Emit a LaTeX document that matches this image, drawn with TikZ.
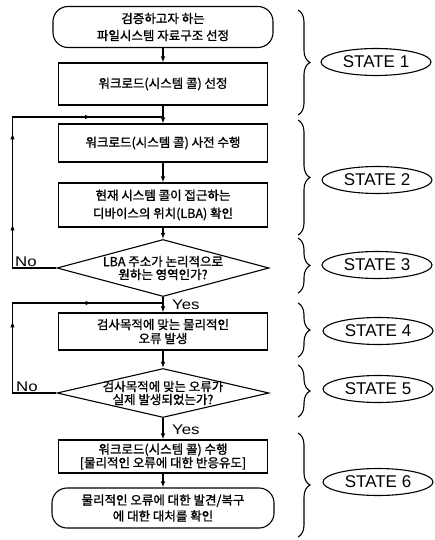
\documentclass[tikz,border=0pt]{standalone}
\usepackage{fontspec}
\newfontfamily\kr[FakeBold=1.2]{Noto Sans CJK KR}
\newfontfamily\lat{Liberation Sans}
\newfontfamily\latw[FakeStretch=1.2]{Liberation Sans}
\usetikzlibrary{shapes.geometric,arrows.meta,decorations.pathreplacing,decorations.markings}
\tikzset{
  ktext/.style={font=\kr\fontsize{12.5}{#1}\selectfont},
  box/.style={draw, line width=1.1pt, minimum width=209pt, inner sep=0pt, align=center},
  term/.style={box, rounded corners=15pt},
  dia/.style={draw, line width=1.1pt, diamond, inner sep=0pt, minimum width=212pt},
  txt/.style={align=center, inner sep=0pt},
  arr/.style={-{Latex[length=6pt,width=4.5pt]}, line width=1.1pt},
  brc/.style={decorate, decoration={brace, amplitude=12pt}, line width=1.1pt},
  st/.style={draw, ellipse, line width=1.1pt, minimum width=110pt, minimum height=27pt, inner sep=0pt, font=\lat\fontsize{17}{17}\selectfont},
  yn/.style={inner sep=0pt, font=\latw\fontsize{14}{14}\selectfont},
  loopa/.style={line width=1.1pt, postaction={decorate, decoration={markings,
     mark=at position 87.5pt with {\arrow{Latex[length=6pt,width=4.5pt]}},
     mark=at position 178.5pt with {\arrow{Latex[length=6pt,width=4.5pt]}},
     mark=at position 273.5pt with {\arrow{Latex[length=6pt,width=4.5pt]}}}}},
  loopb/.style={line width=1.1pt, postaction={decorate, decoration={markings,
     mark=at position 115.5pt with {\arrow{Latex[length=6pt,width=4.5pt]}},
     mark=at position 213pt with {\arrow{Latex[length=6pt,width=4.5pt]}}}}}
}
\begin{document}
\begin{tikzpicture}[x=1pt,y=-1pt]
\useasboundingbox[fill=white] (0,0) rectangle (435,540);

% flow nodes
\node[term, ktext=17, minimum width=220pt, minimum height=41pt] (t1) at (163,27) {검증하고자 하는\\파일시스템 자료구조 선정};
\node[box, ktext=16, minimum height=42pt] (b2) at (163,84) {워크로드(시스템 콜) 선정};
\node[box, ktext=16, minimum height=38pt] (b3) at (163,143) {워크로드(시스템 콜) 사전 수행};
\node[box, ktext=18, minimum height=44pt] (b4) at (163,205) {현재 시스템 콜이 접근하는\\디바이스의 위치(LBA) 확인};
\node[dia, minimum height=57pt] (d1) at (163,268) {};
\node[txt, ktext=13] (d1t) at (d1.center) {LBA 주소가 논리적으로\\원하는 영역인가?};
\node[box, ktext=14, minimum height=37pt] (b5) at (163,331.5) {검사목적에 맞는 물리적인\\오류 발생};
\node[dia, minimum height=49pt] (d2) at (163,393) {};
\node[txt, ktext=13] (d2t) at (d2.center) {검사목적에 맞는 오류가\\실제 발생되었는가?};
\node[box, ktext=13.5, minimum height=33pt] (b6) at (163,456.5) {워크로드(시스템 콜) 수행\\{[}물리적인 오류에 대한 반응유도{]}};
\node[term, ktext=16, minimum width=222pt, minimum height=40pt] (t2) at (163,508) {물리적인 오류에 대한 발견/복구\\에 대한 대처를 확인};

% main connectors
\draw[arr] (t1) -- (b2);
\draw[arr] (b2) -- (b3);
\draw[arr] (b3) -- (b4);
\draw[arr] (b4) -- (d1);
\draw[arr] (d1) -- (b5);
\draw[arr] (b5) -- (d2);
\draw[arr] (d2) -- (b6);
\draw[arr] (b6) -- (t2);

% loops
\coordinate (j1) at (b2.south |- 0,117);
\coordinate (L1) at (12.5,0 |- d1.west);
\draw[loopa] (d1.west) -- (L1) -- (L1 |- j1) -- (j1);
\coordinate (j2) at (d1.south |- 0,303);
\coordinate (L2) at (12.5,0 |- d2.west);
\draw[loopb] (d2.west) -- (L2) -- (L2 |- j2) -- (j2);

% labels
\node[yn, anchor=south west] (no1) at (15,266.5) {No};
\node[yn, anchor=south west] (no2) at (16,391.5) {No};
\node[yn, anchor=west] (yes1) at (172,304.5) {Yes};
\node[yn, anchor=west] (yes2) at (172,430) {Yes};

% braces
\coordinate (r1a) at (298,10);  \coordinate (r1b) at (298,115);
\coordinate (r2a) at (298,120); \coordinate (r2b) at (298,235);
\coordinate (r3a) at (298,238); \coordinate (r3b) at (298,293);
\coordinate (r4a) at (298,303); \coordinate (r4b) at (298,357);
\coordinate (r5a) at (298,365); \coordinate (r5b) at (298,417);
\coordinate (r6a) at (298,433); \coordinate (r6b) at (298,537);
\draw[brc] (r1a) -- (r1b);
\draw[brc] (r2a) -- (r2b);
\draw[brc] (r3a) -- (r3b);
\draw[brc] (r4a) -- (r4b);
\draw[brc] (r5a) -- (r5b);
\draw[brc] (r6a) -- (r6b);

% states
\node[st] (s1) at (376,62) {STATE 1};
\node[st] (s2) at (377,180) {STATE 2};
\node[st] (s3) at (377,265) {STATE 3};
\node[st] (s4) at (378,331) {STATE 4};
\node[st] (s5) at (378,389) {STATE 5};
\node[st] (s6) at (378,482) {STATE 6};
\end{tikzpicture}
\end{document}
